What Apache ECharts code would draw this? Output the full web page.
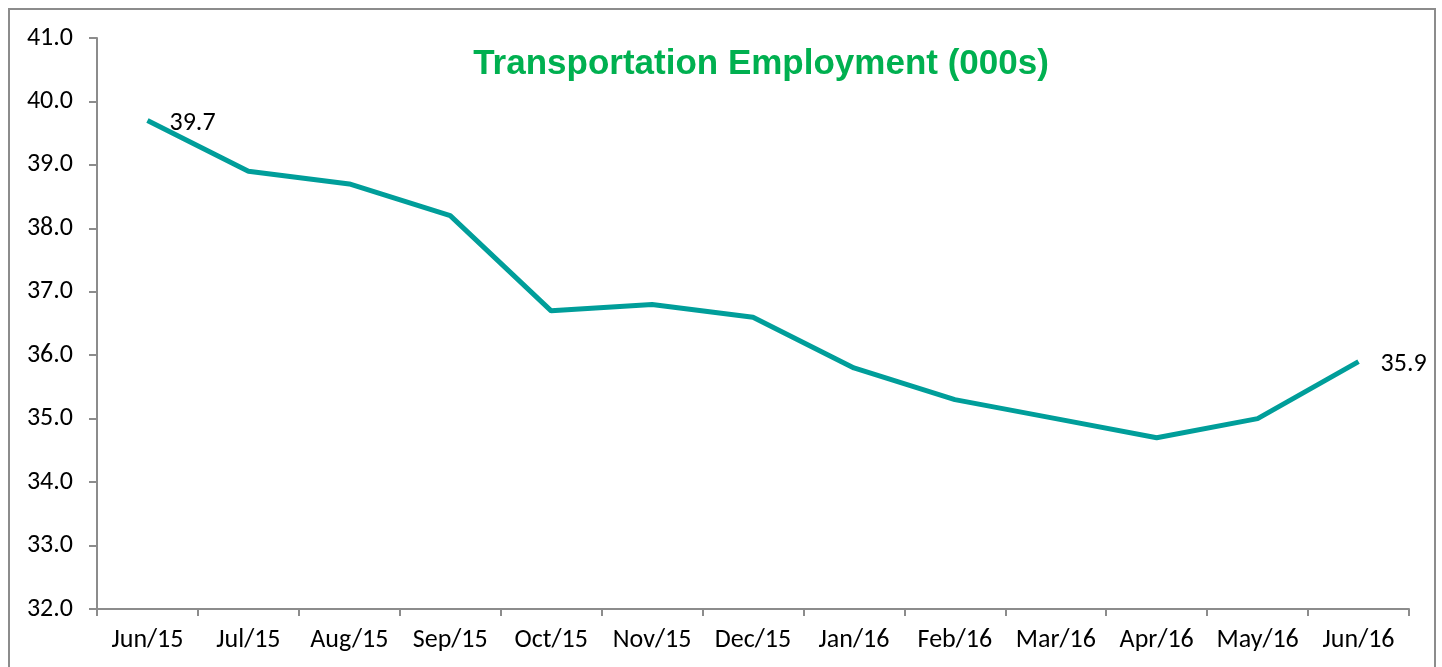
<!DOCTYPE html>
<html>
<head>
<meta charset="utf-8">
<script src="https://cdn.jsdelivr.net/npm/echarts@6/dist/echarts.min.js"></script>
<style>
  html, body { margin: 0; padding: 0; background: #fff; }
  #frame { position: absolute; left: 8px; top: 8px; width: 1428px; height: 680px; border: 2px solid #8c8c8c; box-sizing: border-box; }
  #chart { position: absolute; left: 0; top: 0; width: 1442px; height: 667px; }
</style>
</head>
<body>
<div id="frame"></div>
<div id="chart"></div>
<script>
// months on the x axis
const months = ['Jun/15', 'Jul/15', 'Aug/15', 'Sep/15', 'Oct/15', 'Nov/15', 'Dec/15',
                'Jan/16', 'Feb/16', 'Mar/16', 'Apr/16', 'May/16', 'Jun/16'];
// employment, thousands
const employment = [39.7, 38.9, 38.7, 38.2, 36.7, 36.8, 36.6, 35.8, 35.3, 35.0, 34.7, 35.0, 35.9];
const yTicks = [32, 41, 1]; // min, max, step

const lineColor = '#009e9a';
const axisGray = '#8c8c8c';
const labelFont = 'Carlito, Lato, "Open Sans", sans-serif';

const chart = echarts.init(document.getElementById('chart'));

chart.setOption({
    animation: false,
    title: {
        text: 'Transportation Employment (000s)',
        left: 756,
        top: 42,
        textAlign: 'center',
        textStyle: { color: '#00b050', fontFamily: '"Liberation Sans", Arial, sans-serif', fontWeight: 'bold', fontSize: 35 }
    },
    grid: { left: 97, right: 33, top: 38, bottom: 58 },
    xAxis: {
        type: 'category',
        data: months,
        boundaryGap: true,
        axisLine: { lineStyle: { color: axisGray, width: 2 } },
        axisTick: { show: true, length: 7, lineStyle: { color: axisGray, width: 2 } },
        axisLabel: { color: '#000', fontFamily: labelFont, fontSize: 26, margin: 18, interval: 0 },
        splitLine: { show: false }
    },
    yAxis: {
        type: 'value',
        min: yTicks[0],
        max: yTicks[1],
        interval: yTicks[2],
        axisLine: { show: true, lineStyle: { color: axisGray, width: 2 } },
        axisTick: { show: true, length: 8, lineStyle: { color: axisGray, width: 2 } },
        axisLabel: { color: '#000', fontFamily: labelFont, fontSize: 26, margin: 24, formatter: v => v.toFixed(1) },
        splitLine: { show: false }
    },
    series: [{
        type: 'line',
        data: employment.map((v, i) => ({
            value: v,
            label: {
                show: i === 0 || i === employment.length - 1,
                position: 'right',
                distance: 22,
                offset: [0, 3],
                formatter: p => p.value.toFixed(1),
                color: '#000',
                fontFamily: labelFont,
                fontSize: 26
            }
        })),
        symbol: 'circle',
        symbolSize: 0,
        showSymbol: true,
        itemStyle: { color: lineColor },
        lineStyle: { color: lineColor, width: 5 },
        label: { show: false }
    }]
});
</script>
</body>
</html>
